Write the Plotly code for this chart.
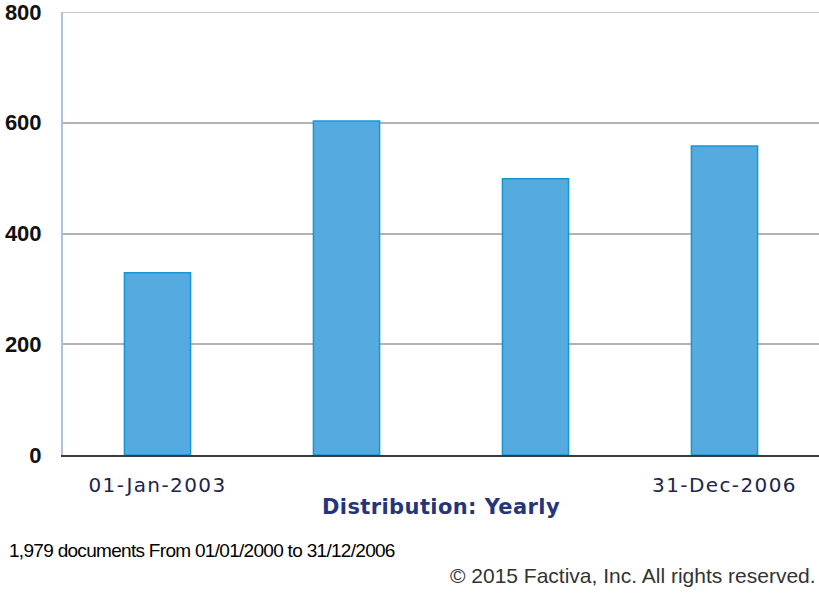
import plotly.graph_objects as go

# Yearly document counts
years = ["2003", "2004", "2005", "2006"]
counts = [329, 603, 499, 558]

# Axis labelling
y_ticks = [0, 200, 400, 600, 800]
x_tick_vals = [years[0], years[-1]]
x_tick_text = ["01-Jan-2003", "31-Dec-2006"]

axis_title = "Distribution: Yearly"
summary_text = "1,979 documents From 01/01/2000 to 31/12/2006"
copyright_text = "© 2015 Factiva, Inc. All rights reserved."

W, H = 819, 594
ML, MR, MT, MB = 63, 0, 12, 139
plot_h = H - MT - MB
plot_w = W - ML - MR
GRID_COLOR = "#b3b3b3"


def px_to_paper_y(py):
    return (H - MB - py) / plot_h


def px_to_paper_x(px):
    return (px - ML) / plot_w


fig = go.Figure(
    go.Bar(
        x=years,
        y=counts,
        marker=dict(color="#55aadf", line=dict(color="#1796d4", width=1.5)),
        hoverinfo="x+y",
    )
)

fig.update_layout(
    width=W,
    height=H,
    margin=dict(l=ML, r=MR, t=MT, b=MB),
    paper_bgcolor="white",
    plot_bgcolor="white",
    bargap=0.65,
    showlegend=False,
    font=dict(family="Liberation Sans, Arial, sans-serif", color="#111"),
    # top gridline sits on the edge of the plotting area, so draw it explicitly
    shapes=[
        dict(
            type="line", xref="paper", yref="y",
            x0=0, x1=1, y0=y_ticks[-1], y1=y_ticks[-1],
            line=dict(color=GRID_COLOR, width=1.5),
            layer="below",
        )
    ],
    annotations=[
        dict(
            text=f'<b><span style="letter-spacing:0.4px">{axis_title}</span></b>',
            xref="paper", yref="paper",
            x=0.5, y=px_to_paper_y(507),
            xanchor="center", yanchor="middle",
            showarrow=False,
            font=dict(family="DejaVu Sans, Verdana, sans-serif", size=21, color="#25357a"),
        ),
        dict(
            text=f'<span style="letter-spacing:-0.7px">{summary_text}</span>',
            xref="paper", yref="paper",
            x=px_to_paper_x(7), y=px_to_paper_y(550),
            xanchor="left", yanchor="middle",
            showarrow=False,
            font=dict(family="Liberation Sans, Arial, sans-serif", size=19, color="#000"),
        ),
        dict(
            text=copyright_text,
            xref="paper", yref="paper",
            x=px_to_paper_x(818), y=px_to_paper_y(575),
            xanchor="right", yanchor="middle",
            showarrow=False,
            font=dict(family="Liberation Sans, Arial, sans-serif", size=21, color="#333"),
        ),
    ],
)

fig.update_xaxes(
    type="category",
    range=[-0.5, len(years) - 0.5],
    tickvals=x_tick_vals,
    ticktext=[f'<span style="letter-spacing:1.4px">{t}</span>' for t in x_tick_text],
    tickfont=dict(family="DejaVu Sans, Verdana, sans-serif", size=20, color="#1a2650"),
    ticks="",
    ticklabelstandoff=11,
    showline=True,
    linecolor="#3a3a3a",
    linewidth=2,
    showgrid=False,
    zeroline=False,
)

fig.update_yaxes(
    range=[0, 800],
    tickvals=y_ticks,
    ticktext=[f"<b>{v}</b>" for v in y_ticks],
    tickfont=dict(family="Liberation Sans, Arial, sans-serif", size=22, color="#111"),
    ticks="",
    ticklabelstandoff=15,
    ticklabeloverflow="allow",
    showline=True,
    linecolor="#a9c3e0",
    linewidth=2,
    showgrid=True,
    gridcolor=GRID_COLOR,
    gridwidth=1.5,
    zeroline=False,
)

fig.write_html("out.html")
